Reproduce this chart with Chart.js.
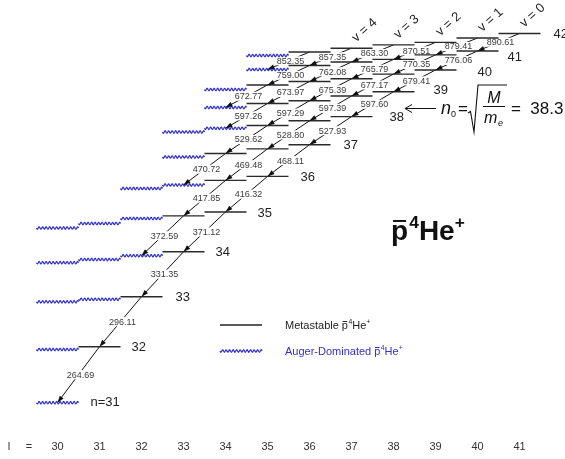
<!DOCTYPE html>
<html><head><meta charset="utf-8">
<script src="https://cdn.jsdelivr.net/npm/chart.js@4.4.1/dist/chart.umd.min.js"></script>
<style>html,body{margin:0;padding:0;background:#fff;}#wrap{width:565px;height:459px;position:relative;}</style>
</head><body><div id="wrap"><canvas id="c"></canvas></div>
<script>
// ---------- data ----------
const principalN = [31, 32, 33, 34, 35, 36, 37, 38, 39, 40, 41, 42];
const lowestL    = [30, 30, 30, 30, 30, 32, 33, 33, 34, 34, 35, 35];
const augerCount = [1, 1, 2, 3, 3, 2, 1, 2, 1, 1, 1, 1];   // lowest-l levels of each n that are Auger-dominated
// relative level energies (arbitrary units), l = lowestL .. n-1
const energyN31 = [0.3];
const energyN32 = [53.5, 56.3];
const energyN33 = [101.2, 103.7, 106.3];
const energyN34 = [140.3, 143.5, 147.3, 151.2];
const energyN35 = [175.0, 179.5, 184.5, 187.1, 191.0];
const energyN36 = [214.5, 218.0, 222.6, 226.6];
const energyN37 = [246.0, 249.5, 254.1, 258.3];
const energyN38 = [271.0, 274.7, 277.5, 282.2, 286.4];
const energyN39 = [295.5, 299.5, 302.3, 307.0, 311.2];
const energyN40 = [313.5, 318.0, 321.5, 324.2, 328.9, 333.0];
const energyN41 = [333.5, 337.5, 341.0, 343.6, 348.1, 352.0];
const energyN42 = [347.5, 351.0, 354.8, 358.1, 360.6, 365.0, 369.5];
// transition wavelengths (nm) from the metastable levels of n (increasing l) to (n-1, l-1)
const wavelengthN32 = [264.69];
const wavelengthN33 = [296.11];
const wavelengthN34 = [331.35];
const wavelengthN35 = [372.59, 371.12];
const wavelengthN36 = [417.85, 416.32];
const wavelengthN37 = [470.72, 469.48, 468.11];
const wavelengthN38 = [529.62, 528.80, 527.93];
const wavelengthN39 = [597.26, 597.29, 597.39, 597.60];
const wavelengthN40 = [672.77, 673.97, 675.39, 677.17, 679.41];
const wavelengthN41 = [759.00, 762.08, 765.79, 770.35, 776.06];
const wavelengthN42 = [852.35, 857.35, 863.30, 870.51, 879.41, 890.61];
const lTickValues = [30, 31, 32, 33, 34, 35, 36, 37, 38, 39, 40, 41];
const lTickLabels = ['30', '31', '32', '33', '34', '35', '36', '37', '38', '39', '40', '41'];
const vChainLabels = ['v = 0', 'v = 1', 'v = 2', 'v = 3', 'v = 4'];
const nZeroText = '38.3';

// ---------- layout tweaks for the n labels (pixels, styling only) ----------
const nLabelDx = [12, 11, 13, 11, 11, 12, 13, 17, 19, 21, 9, 13];
const nLabelDy = [0, 1, 1, 1, 1, 1, 1, 1, -1, 2, 6, 1];

// ---------- build structures ----------
const energyByN = [energyN31, energyN32, energyN33, energyN34, energyN35, energyN36,
                   energyN37, energyN38, energyN39, energyN40, energyN41, energyN42];
const wavelengthByN = [null, wavelengthN32, wavelengthN33, wavelengthN34, wavelengthN35, wavelengthN36,
                       wavelengthN37, wavelengthN38, wavelengthN39, wavelengthN40, wavelengthN41, wavelengthN42];
const levels = [];
principalN.forEach((n, i) => {
  energyByN[i].forEach((E, k) => {
    levels.push({ n, l: lowestL[i] + k, E, auger: k < augerCount[i] });
  });
});
const findLevel = (n, l) => levels.find(o => o.n === n && o.l === l);
const transitions = [];
principalN.forEach((n, i) => {
  const wl = wavelengthByN[i];
  if (!wl) return;
  levels.filter(o => o.n === n && !o.auger).forEach((lv, k) => {
    transitions.push({ from: lv, to: findLevel(n - 1, lv.l - 1), wl: wl[k] });
  });
});
const solidPts = [], augerPts = [], transPts = [];
levels.forEach(o => {
  const arr = o.auger ? augerPts : solidPts;
  arr.push({ x: o.l - 0.5, y: o.E }, { x: o.l + 0.5, y: o.E }, { x: o.l + 0.5, y: null });
});
transitions.forEach(t => {
  transPts.push({ x: t.from.l, y: t.from.E }, { x: t.to.l, y: t.to.E }, { x: t.to.l, y: null });
});

const FONT = '"Liberation Sans", Arial, Helvetica, sans-serif';
const BLUE = '#3030cc';
const INK = '#222';

function wavy(ctx, x0, x1, y, amp, period) {
  ctx.beginPath();
  for (let x = x0; x <= x1 + 0.01; x += 0.4) {
    const yy = y + amp * Math.sin((x - x0) / period * 2 * Math.PI);
    if (x === x0) ctx.moveTo(x, yy); else ctx.lineTo(x, yy);
  }
  ctx.stroke();
}
function arrowHead(ctx, x0, y0, x1, y1, len, hw) {
  const a = Math.atan2(y1 - y0, x1 - x0), c = Math.cos(a), s = Math.sin(a);
  ctx.beginPath();
  ctx.moveTo(x1, y1);
  ctx.lineTo(x1 - len * c + hw * s, y1 - len * s - hw * c);
  ctx.lineTo(x1 - len * c - hw * s, y1 - len * s + hw * c);
  ctx.closePath();
  ctx.fill();
}
// draws "p̄4He+" ; returns width
function drawPHe(ctx, x, base, size, weight, color) {
  ctx.save();
  ctx.fillStyle = color; ctx.strokeStyle = color;
  ctx.textAlign = 'left'; ctx.textBaseline = 'alphabetic';
  const sup = size * 0.62;
  let cx = x;
  ctx.font = `${weight} ${size}px ${FONT}`;
  const pw = ctx.measureText('p').width;
  ctx.fillText('p', cx, base);
  ctx.lineWidth = Math.max(1, size * 0.07);
  ctx.beginPath();
  ctx.moveTo(cx + pw * 0.12, base - size * 0.68);
  ctx.lineTo(cx + pw * 0.88, base - size * 0.68);
  ctx.stroke();
  cx += pw + size * 0.04;
  ctx.font = `${weight} ${sup}px ${FONT}`;
  ctx.fillText('4', cx, base - size * 0.42);
  cx += ctx.measureText('4').width;
  ctx.font = `${weight} ${size}px ${FONT}`;
  ctx.fillText('He', cx, base);
  cx += ctx.measureText('He').width;
  ctx.font = `${weight} ${sup}px ${FONT}`;
  ctx.fillText('+', cx, base - size * 0.42);
  cx += ctx.measureText('+').width;
  ctx.restore();
  return cx - x;
}

const decorPlugin = {
  id: 'decor',
  afterDatasetDraw(chart, args) {
    if (args.index !== 2) return;
    const ctx = chart.ctx, xs = chart.scales.x, ys = chart.scales.y;
    ctx.save();
    ctx.font = `9px ${FONT}`;
    ctx.textAlign = 'center'; ctx.textBaseline = 'middle';
    transitions.forEach(t => {
      const x0 = xs.getPixelForValue(t.from.l), y0 = ys.getPixelForValue(t.from.E);
      const x1 = xs.getPixelForValue(t.to.l), y1 = ys.getPixelForValue(t.to.E);
      const mx = (x0 + x1) / 2 + 2, my = (y0 + y1) / 2;
      const txt = t.wl.toFixed(2);
      const w = ctx.measureText(txt).width;
      ctx.fillStyle = '#fff';
      ctx.fillRect(mx - w / 2 - 1, my - 4.5, w + 2, 9);
      ctx.fillStyle = '#3a3a3a';
      ctx.fillText(txt, mx, my + 0.5);
    });
    ctx.restore();
  },
  afterDatasetsDraw(chart) {
    const ctx = chart.ctx, xs = chart.scales.x, ys = chart.scales.y;
    ctx.save();
    // Auger-dominated levels (wavy)
    ctx.strokeStyle = BLUE; ctx.lineWidth = 1.2;
    levels.filter(o => o.auger).forEach(o => {
      wavy(ctx, xs.getPixelForValue(o.l - 0.5), xs.getPixelForValue(o.l + 0.5), ys.getPixelForValue(o.E), 1.2, 3.5);
    });
    // arrow heads
    ctx.fillStyle = '#111';
    transitions.forEach(t => {
      arrowHead(ctx, xs.getPixelForValue(t.from.l), ys.getPixelForValue(t.from.E),
                xs.getPixelForValue(t.to.l), ys.getPixelForValue(t.to.E), 7, 2.4);
    });
    // n labels
    ctx.fillStyle = INK; ctx.font = `13px ${FONT}`;
    ctx.textAlign = 'left'; ctx.textBaseline = 'middle';
    principalN.forEach((n, i) => {
      const lv = findLevel(n, n - 1);
      const x = xs.getPixelForValue(lv.l + 0.5) + nLabelDx[i];
      const y = ys.getPixelForValue(lv.E) + nLabelDy[i];
      ctx.fillText(i === 0 ? 'n=' + n : String(n), x, y);
    });
    // v labels (above the top of each v-chain)
    ctx.font = `13px ${FONT}`; ctx.textAlign = 'center';
    vChainLabels.forEach((txt, v) => {
      const nTop = principalN[principalN.length - 1];
      const lv = findLevel(nTop, nTop - 1 - v);
      const x = xs.getPixelForValue(lv.l) + 13, y = ys.getPixelForValue(lv.E) - 18;
      ctx.save(); ctx.translate(x, y); ctx.rotate(-42 * Math.PI / 180);
      ctx.fillText(txt, 0, 0); ctx.restore();
    });
    // l axis labels
    ctx.font = `11px ${FONT}`; ctx.fillStyle = '#333'; ctx.textAlign = 'center';
    lTickValues.forEach((l, i) => ctx.fillText(lTickLabels[i], xs.getPixelForValue(l), 447));
    ctx.fillText('l', 9, 447);
    ctx.fillText('=', 29, 447);
    // title
    drawPHe(ctx, 391, 240, 28, 'bold', '#111');
    // n0 formula
    ctx.strokeStyle = '#111'; ctx.fillStyle = '#111'; ctx.lineWidth = 1;
    ctx.beginPath(); ctx.moveTo(405, 108.5); ctx.lineTo(436, 108.5);
    ctx.moveTo(412, 104.5); ctx.lineTo(405, 108.5); ctx.lineTo(412, 112.5); ctx.stroke();
    ctx.textAlign = 'left'; ctx.textBaseline = 'alphabetic';
    ctx.font = `italic 18px ${FONT}`; ctx.fillText('n', 441, 114);
    ctx.font = `9px ${FONT}`; ctx.fillText('0', 451, 117);
    ctx.font = `17px ${FONT}`; ctx.fillText('=', 458, 114);
    ctx.lineWidth = 1.1;
    ctx.beginPath(); ctx.moveTo(468, 113); ctx.lineTo(470.5, 111.5); ctx.lineTo(474, 132);
    ctx.lineTo(478, 85); ctx.lineTo(507, 85); ctx.stroke();
    ctx.textAlign = 'center';
    ctx.font = `italic 16px ${FONT}`; ctx.fillText('M', 494, 103);
    ctx.lineWidth = 1;
    ctx.beginPath(); ctx.moveTo(483, 106.5); ctx.lineTo(505, 106.5); ctx.stroke();
    ctx.textAlign = 'left';
    ctx.font = `italic 16px ${FONT}`; ctx.fillText('m', 484, 123);
    ctx.font = `italic 9px ${FONT}`; ctx.fillText('e', 498, 126);
    ctx.font = `17px ${FONT}`; ctx.fillText('=  ' + nZeroText, 511, 114);
    // legend
    ctx.strokeStyle = INK; ctx.lineWidth = 1.3;
    ctx.beginPath(); ctx.moveTo(220, 325); ctx.lineTo(262, 325); ctx.stroke();
    ctx.font = `11px ${FONT}`; ctx.fillStyle = INK; ctx.textBaseline = 'alphabetic';
    ctx.fillText('Metastable ', 285, 329);
    let w = ctx.measureText('Metastable ').width;
    drawPHe(ctx, 285 + w, 329, 11, 'normal', INK);
    ctx.strokeStyle = BLUE; ctx.lineWidth = 1.2;
    wavy(ctx, 220, 262, 351, 1.2, 3.5);
    ctx.fillStyle = BLUE; ctx.font = `11px ${FONT}`;
    ctx.fillText('Auger-Dominated ', 285, 355);
    w = ctx.measureText('Auger-Dominated ').width;
    drawPHe(ctx, 285 + w, 355, 11, 'normal', BLUE);
    ctx.restore();
  }
};

new Chart(document.getElementById('c'), {
  type: 'line',
  data: {
    datasets: [
      { label: 'Metastable', data: solidPts, borderColor: '#2a2a2a', borderWidth: 1.4, pointRadius: 0, order: 0, spanGaps: false },
      { label: 'Auger-dominated', data: augerPts, showLine: false, pointRadius: 0, order: 1 },
      { label: 'Transitions', data: transPts, borderColor: '#111', borderWidth: 1, pointRadius: 0, order: 2, spanGaps: false }
    ]
  },
  options: {
    responsive: true, maintainAspectRatio: false, animation: false,
    layout: { padding: 0 },
    plugins: { legend: { display: false }, tooltip: { enabled: false } },
    scales: {
      x: { type: 'linear', display: false, min: 30 - 57.5 / 42, max: 30 - 57.5 / 42 + 565 / 42 },
      y: { type: 'linear', display: false, min: -56, max: 403 }
    }
  },
  plugins: [decorPlugin]
});
</script></body></html>
